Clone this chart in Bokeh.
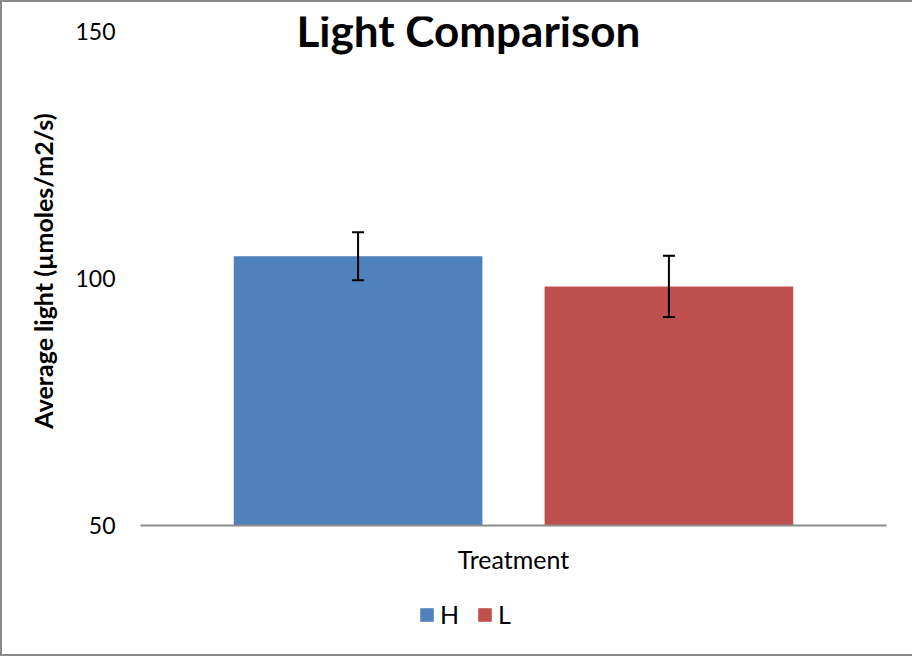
from bokeh.plotting import figure
from bokeh.layouts import column
from bokeh.models import (FactorRange, Range1d, ColumnDataSource, Whisker, TeeHead,
                          Legend, LegendItem, Label, FixedTicker, LinearAxis)
from bokeh.embed import file_html
from bokeh.resources import INLINE

# ---- data ----
treatments = ["H", "L"]
means = [104.5, 98.4]
errors = [4.85, 6.2]
colors = ["#4F81BD", "#C0504D"]
y_ticks = [50, 100, 150]
title_text = "Light Comparison"
x_label = "Treatment"
y_label = "Average light (µmoles/m2/s)"

upper = [m + e for m, e in zip(means, errors)]
lower = [m - e for m, e in zip(means, errors)]

src = ColumnDataSource(dict(t=treatments, m=means, up=upper, lo=lower, c=colors))

FONT = "Lato"

p = figure(width=910, height=588,
           x_range=FactorRange(*treatments, range_padding=0.2, range_padding_units="absolute"),
           y_range=Range1d(50, 153.05), x_axis_type=None,
           output_backend="svg", toolbar_location=None,
           min_border_left=138, min_border_right=26, min_border_top=14, min_border_bottom=65)

p.outline_line_color = None
p.xgrid.visible = False
p.ygrid.visible = False
p.background_fill_color = "white"

r = p.vbar(x="t", top="m", bottom=0, width=0.8, source=src,
           fill_color="c", line_color=None)

w = Whisker(base="t", upper="up", lower="lo", source=src,
            line_color="black", line_width=2, level="overlay",
            upper_head=TeeHead(size=12, line_color="black", line_width=2),
            lower_head=TeeHead(size=12, line_color="black", line_width=2))
p.add_layout(w)

# y axis
p.yaxis.ticker = FixedTicker(ticks=y_ticks)
p.yaxis.axis_line_color = None
p.yaxis.major_tick_line_color = None
p.yaxis.minor_tick_line_color = None
p.yaxis.major_tick_out = 0
p.yaxis.major_tick_in = 0
p.yaxis.major_label_standoff = 25
p.yaxis.major_label_text_font = FONT
p.yaxis.major_label_text_font_size = "23px"
p.yaxis.major_label_text_color = "black"
p.yaxis.axis_label = y_label
p.yaxis.axis_label_text_font = FONT
p.yaxis.axis_label_text_font_size = "25px"
p.yaxis.axis_label_text_font_style = "bold"
p.yaxis.axis_label_text_color = "black"
p.yaxis.axis_label_standoff = 14

# x axis (baseline + title only)
xaxis = LinearAxis(ticker=FixedTicker(ticks=[]), axis_label=x_label,
                   axis_line_color="#8c8c8c", axis_line_width=2,
                   major_tick_line_color=None, minor_tick_line_color=None,
                   major_tick_out=0, major_tick_in=0, major_label_standoff=0,
                   axis_label_text_font=FONT, axis_label_text_font_size="25px",
                   axis_label_text_font_style="normal", axis_label_text_color="black",
                   axis_label_standoff=18)
p.add_layout(xaxis, "below")

# title
title = Label(x=0.855, y=150.3, text=title_text, text_font=FONT,
              text_font_size="44px", text_font_style="bold", text_color="black",
              text_align="center", text_baseline="alphabetic")
p.add_layout(title)

# legend strip
p2 = figure(width=910, height=64, x_range=Range1d(0, 1), y_range=Range1d(0, 1),
            x_axis_type=None, y_axis_type=None, output_backend="svg",
            toolbar_location=None, min_border=0)
p2.outline_line_color = None
p2.xgrid.visible = False
p2.ygrid.visible = False
proxies = [p2.vbar(x=[0.5], top=[1], width=0.5, fill_color=c, line_color=None, visible=False)
           for c in colors]

legend = Legend(items=[LegendItem(label=t, renderers=[pr]) for t, pr in zip(treatments, proxies)],
                orientation="horizontal", location=(278, 25),
                glyph_width=17, glyph_height=17, label_standoff=5, spacing=16,
                padding=0, margin=0, border_line_color=None, background_fill_alpha=0,
                inactive_fill_alpha=0,
                label_text_font=FONT, label_text_font_size="25px", label_text_color="black")
p2.add_layout(legend, "center")

layout = column(p, p2, spacing=0,
                styles={"border-left": "2px solid #8a8a8a", "border-top": "2px solid #8a8a8a",
                        "border-bottom": "2px solid #8a8a8a"})

open("out.html", "w").write(file_html(layout, INLINE))
